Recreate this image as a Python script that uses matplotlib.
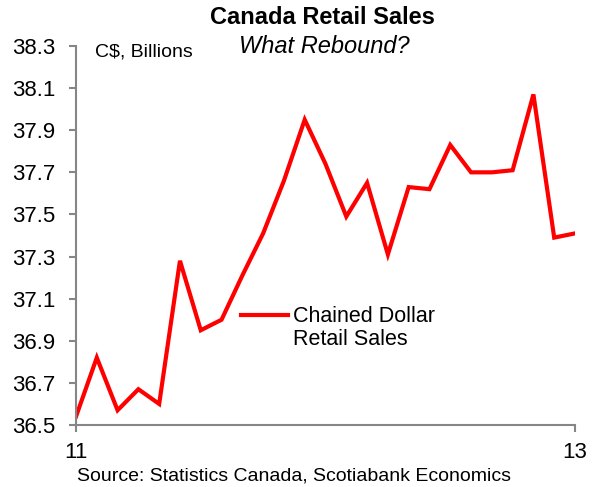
import matplotlib
matplotlib.use('Agg')
from matplotlib import pyplot as plt

plt.rcParams['font.family'] = ['Liberation Sans', 'DejaVu Sans']

# monthly chained-dollar retail sales, Jan 2011 .. Jan 2013 (C$ billions)
months = [11 + i / 12 for i in range(25)]
sales = [36.54, 36.82, 36.57, 36.67, 36.60, 37.28, 36.95, 37.00, 37.21,
         37.41, 37.66, 37.95, 37.74, 37.49, 37.65, 37.31, 37.63, 37.62,
         37.83, 37.70, 37.70, 37.71, 38.07, 37.39, 37.41]
y_ticks = [36.5, 36.7, 36.9, 37.1, 37.3, 37.5, 37.7, 37.9, 38.1, 38.3]
x_ticks = [11, 13]

fig = plt.figure(figsize=(6.01, 4.87), dpi=100)
ax = fig.add_axes([76 / 601, 62 / 487, 499 / 601, 379 / 487])

ax.plot(months, sales, color='#ff0000', lw=3, solid_joinstyle='miter')

ax.set_xlim(11, 13)
ax.set_ylim(36.5, 38.3)
ax.set_yticks(y_ticks)
ax.set_yticklabels(['{:.1f}'.format(v) for v in y_ticks])
ax.set_xticks(x_ticks)
ax.set_xticklabels([str(v) for v in x_ticks])

for side in ['top', 'right']:
    ax.spines[side].set_visible(False)
for side in ['left', 'bottom']:
    ax.spines[side].set_color('#868686')
    ax.spines[side].set_linewidth(1.5)
ax.tick_params(which='major', direction='out', color='#868686', width=1.5,
               length=5, labelsize=16, labelcolor='black')
ax.tick_params(axis='x', pad=7)
ax.tick_params(axis='y', pad=10)

fig.text(0.537, 0.965, 'Canada Retail Sales', ha='center', va='center',
         fontsize=17, fontweight='bold')
fig.text(0.539, 0.905, 'What Rebound?', ha='center', va='center',
         fontsize=17, style='italic')
ax.text(0.038, 0.985, 'C$, Billions', transform=ax.transAxes,
        ha='left', va='center', fontsize=14)

# inline legend
fig.add_artist(plt.Line2D([241 / 601, 288 / 601], [1 - 315 / 487, 1 - 315 / 487],
                          color='#ff0000', lw=3))
fig.text(293 / 601, 1 - 328 / 487, 'Chained Dollar\nRetail Sales',
         ha='left', va='center', fontsize=15.5, linespacing=1.15)

fig.text(77 / 601, 1 - 476 / 487, 'Source: Statistics Canada, Scotiabank Economics',
         ha='left', va='center', fontsize=14)

fig.savefig('out.png', dpi=100)
